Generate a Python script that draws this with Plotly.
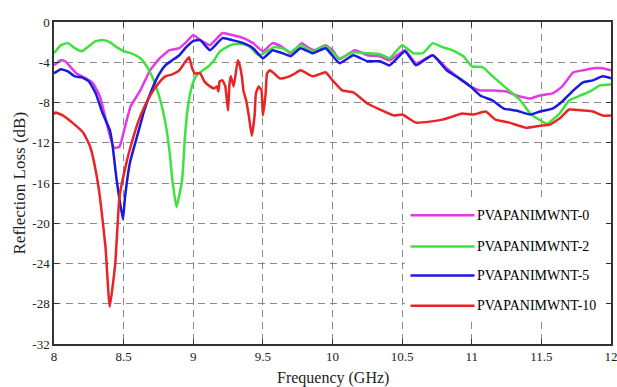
import plotly.graph_objects as go

# ---- data ----
names = ["PVAPANIMWNT-0", "PVAPANIMWNT-2", "PVAPANIMWNT-5", "PVAPANIMWNT-10"]
colors = ["#e639e6", "#3ee23e", "#1a1adc", "#e82424"]

x0 = [8.0, 8.05, 8.08, 8.16, 8.23, 8.28, 8.33, 8.39, 8.43, 8.47, 8.51, 8.55, 8.62, 8.69, 8.76, 8.83,
      8.9, 8.95, 9.0, 9.05, 9.12, 9.21, 9.28, 9.36, 9.43, 9.5, 9.57, 9.64, 9.7, 9.78, 9.82, 9.87,
      9.95, 10.0, 10.05, 10.16, 10.25, 10.34, 10.41, 10.52, 10.6, 10.72, 10.82, 10.91, 10.99, 11.06,
      11.15, 11.25, 11.32, 11.42, 11.49, 11.58, 11.65, 11.73, 11.8, 11.87, 11.94, 12.0]
y0 = [-4.3, -3.8, -3.9, -5.1, -5.6, -6.1, -7.4, -10.7, -12.5, -12.4, -10.4, -8.4, -6.8, -4.8, -3.6, -2.8,
      -2.6, -2.0, -1.3, -1.8, -2.3, -1.1, -1.3, -1.6, -2.1, -2.9, -2.1, -2.5, -3.1, -2.1, -2.5, -2.8,
      -2.3, -2.8, -3.7, -2.8, -3.3, -3.4, -3.8, -2.8, -4.1, -3.3, -4.6, -5.6, -6.4, -6.8,
      -6.8, -6.9, -7.3, -7.6, -7.3, -7.1, -6.4, -5.0, -4.8, -4.6, -4.6, -4.8]

x2 = [8.0, 8.05, 8.1, 8.15, 8.2, 8.25, 8.3, 8.35, 8.4, 8.45, 8.5, 8.55, 8.62, 8.67, 8.71, 8.76,
      8.8, 8.83, 8.85, 8.88, 8.92, 8.94, 8.96, 8.99, 9.02, 9.06, 9.11, 9.15, 9.19, 9.24, 9.29, 9.36,
      9.41, 9.45, 9.48, 9.53, 9.58, 9.64, 9.7, 9.77, 9.86, 9.95, 10.05, 10.15, 10.25, 10.34, 10.41,
      10.5, 10.58, 10.65, 10.72, 10.79, 10.86, 10.94, 11.0, 11.08, 11.15, 11.25, 11.35, 11.42, 11.54,
      11.63, 11.7, 11.78, 11.85, 11.92, 12.0]
y2 = [-3.1, -2.3, -2.1, -2.6, -2.9, -2.4, -1.9, -1.8, -2.0, -2.5, -2.9, -3.1, -3.6, -4.5, -5.6, -7.6,
      -10.0, -12.9, -15.7, -18.4, -15.7, -11.5, -8.6, -6.4, -5.4, -4.9, -4.4, -3.8, -2.95, -2.5, -2.2, -2.2,
      -2.5, -3.1, -3.3, -2.9, -2.5, -2.6, -3.0, -2.3, -2.9, -2.4, -3.6, -3.0, -3.1, -3.2, -3.6,
      -2.3, -3.1, -3.1, -2.1, -2.5, -2.8, -3.4, -4.4, -4.5, -5.4, -6.6, -7.8, -9.1, -10.1,
      -9.1, -7.8, -7.3, -6.9, -6.3, -6.2]

x5 = [8.0, 8.05, 8.1, 8.15, 8.2, 8.25, 8.3, 8.35, 8.4, 8.42, 8.45, 8.495, 8.51, 8.545, 8.6, 8.65,
      8.7, 8.75, 8.8, 8.85, 8.9, 8.95, 9.0, 9.05, 9.12, 9.21, 9.28, 9.36, 9.43, 9.5, 9.57, 9.64,
      9.7, 9.77, 9.86, 9.95, 10.05, 10.15, 10.25, 10.34, 10.41, 10.52, 10.6, 10.72, 10.82, 10.91,
      10.99, 11.06, 11.15, 11.23, 11.32, 11.42, 11.49, 11.58, 11.65, 11.73, 11.8, 11.87, 11.94, 12.0]
y5 = [-5.1, -4.7, -4.9, -5.4, -5.5, -5.9, -7.1, -9.1, -10.7, -12.2, -15.7, -19.6, -17.4, -14.0, -11.2, -8.7,
      -6.8, -5.3, -4.3, -3.8, -3.3, -2.5, -1.9, -1.8, -2.8, -1.6, -1.8, -2.1, -2.6, -3.6, -2.8, -3.1,
      -3.4, -2.6, -3.1, -2.6, -4.1, -3.3, -3.9, -3.9, -4.3, -2.9, -4.3, -3.3, -4.8, -5.6,
      -6.4, -7.3, -7.8, -8.6, -8.8, -9.2, -8.9, -8.6, -7.9, -6.8, -6.0, -5.8, -5.4, -5.6]

x10 = [8.0, 8.01, 8.065, 8.14, 8.21, 8.26, 8.3, 8.33, 8.37, 8.40, 8.44, 8.47, 8.52, 8.55, 8.6, 8.65,
       8.7, 8.75, 8.8, 8.85, 8.9, 8.94, 8.97, 8.99, 9.01, 9.05, 9.08, 9.12, 9.15, 9.17, 9.18, 9.19,
       9.21, 9.23, 9.25, 9.26, 9.27, 9.29, 9.32, 9.33, 9.35, 9.36, 9.38, 9.40, 9.42, 9.44, 9.45,
       9.47, 9.49, 9.50, 9.52, 9.53, 9.55, 9.58, 9.62, 9.67, 9.72, 9.77, 9.86, 9.95, 10.0, 10.07,
       10.15, 10.25, 10.34, 10.44, 10.5, 10.6, 10.7, 10.79, 10.86, 10.93, 11.01, 11.1, 11.17, 11.27,
       11.39, 11.49, 11.56, 11.63, 11.7, 11.8, 11.87, 11.94, 12.0]
y10 = [-9.2, -9.0, -9.3, -10.1, -11.0, -12.4, -14.8, -17.4, -22.4, -28.3, -24.0, -17.4, -14.0, -12.4, -10.1, -8.4,
       -7.1, -6.1, -5.4, -5.2, -4.8, -4.0, -3.5, -4.5, -5.1, -5.1, -5.9, -6.4, -6.6, -6.4, -6.9, -5.9,
       -5.8, -6.4, -8.8, -6.2, -5.4, -6.4, -3.8, -4.1, -5.5, -6.8, -7.8, -9.4, -11.3, -9.4, -7.1,
       -6.4, -6.8, -9.3, -7.1, -5.1, -4.8, -5.1, -5.6, -5.5, -5.2, -4.8, -5.4, -5.0, -5.8, -6.8,
       -7.0, -8.1, -8.7, -9.3, -9.2, -10.0, -9.9, -9.7, -9.4, -9.1, -9.2, -8.9, -9.7, -10.0,
       -10.5, -10.3, -10.2, -9.6, -8.7, -8.8, -8.9, -9.3, -9.3]

series = [(x0, y0), (x2, y2), (x5, y5), (x10, y10)]
for xs, ys in series:
    assert len(xs) == len(ys), (len(xs), len(ys))

x_ticks = [8, 8.5, 9, 9.5, 10, 10.5, 11, 11.5, 12]
y_ticks = [0, -4, -8, -12, -16, -20, -24, -28, -32]

# ---- figure ----
FONT = "Liberation Serif, Times New Roman, serif"
fig = go.Figure()
for (xs, ys), name, col in zip(series, names, colors):
    fig.add_trace(go.Scatter(x=xs, y=ys, mode="lines", name=name,
                             line=dict(color=col, width=2.5, shape="spline", smoothing=0.4),
                             showlegend=False))

# custom legend (white box, long line samples)
shapes = [dict(type="rect", xref="x", yref="y", x0=10.52, x1=11.94, y0=-29.8, y1=-17.6,
               fillcolor="white", line=dict(width=0), layer="above")]
annotations = []
leg_y = [-19.2, -22.3, -25.2, -28.2]
for name, col, ly in zip(names, colors, leg_y):
    shapes.append(dict(type="line", xref="x", yref="y", x0=10.56, x1=11.02, y0=ly, y1=ly,
                       line=dict(color=col, width=2.5), layer="above"))
    annotations.append(dict(x=11.025, y=ly, xref="x", yref="y", text=name, showarrow=False,
                            xanchor="left", yanchor="middle",
                            font=dict(family=FONT, size=14, color="black")))

# axis titles as annotations
annotations.append(dict(x=0.5, y=-0.105, xref="paper", yref="paper", text="Frequency (GHz)",
                        showarrow=False, xanchor="center", yanchor="middle",
                        font=dict(family=FONT, size=16, color="#222")))
annotations.append(dict(x=-0.062, y=0.5, xref="paper", yref="paper", text="Reflection Loss (dB)",
                        showarrow=False, xanchor="center", yanchor="middle", textangle=-90,
                        font=dict(family=FONT, size=17, color="#222")))

axis_common = dict(showline=True, linecolor="#333", linewidth=1.5, mirror="allticks",
                   ticks="inside", ticklen=5, tickcolor="#333", tickwidth=1,
                   showgrid=True, gridcolor="#8a8a8a", gridwidth=1, griddash="7px,5px",
                   zeroline=False, automargin=False, ticklabeloverflow="allow",
                   tickfont=dict(family=FONT, size=13, color="#222"))

fig.update_xaxes(range=[8, 12], tickvals=x_ticks, ticktext=[str(v) for v in x_ticks],
                 **axis_common)
fig.update_yaxes(range=[-32, 0], tickvals=y_ticks, ticktext=[str(v) for v in y_ticks],
                 **axis_common)

fig.update_layout(width=617, height=387, margin=dict(l=54, r=6, t=22, b=43),
                  paper_bgcolor="white", plot_bgcolor="white",
                  shapes=shapes, annotations=annotations)
fig.write_html("out.html", config={"displayModeBar": False},
               post_script="document.body.style.margin='0';document.body.style.overflow='hidden';")
